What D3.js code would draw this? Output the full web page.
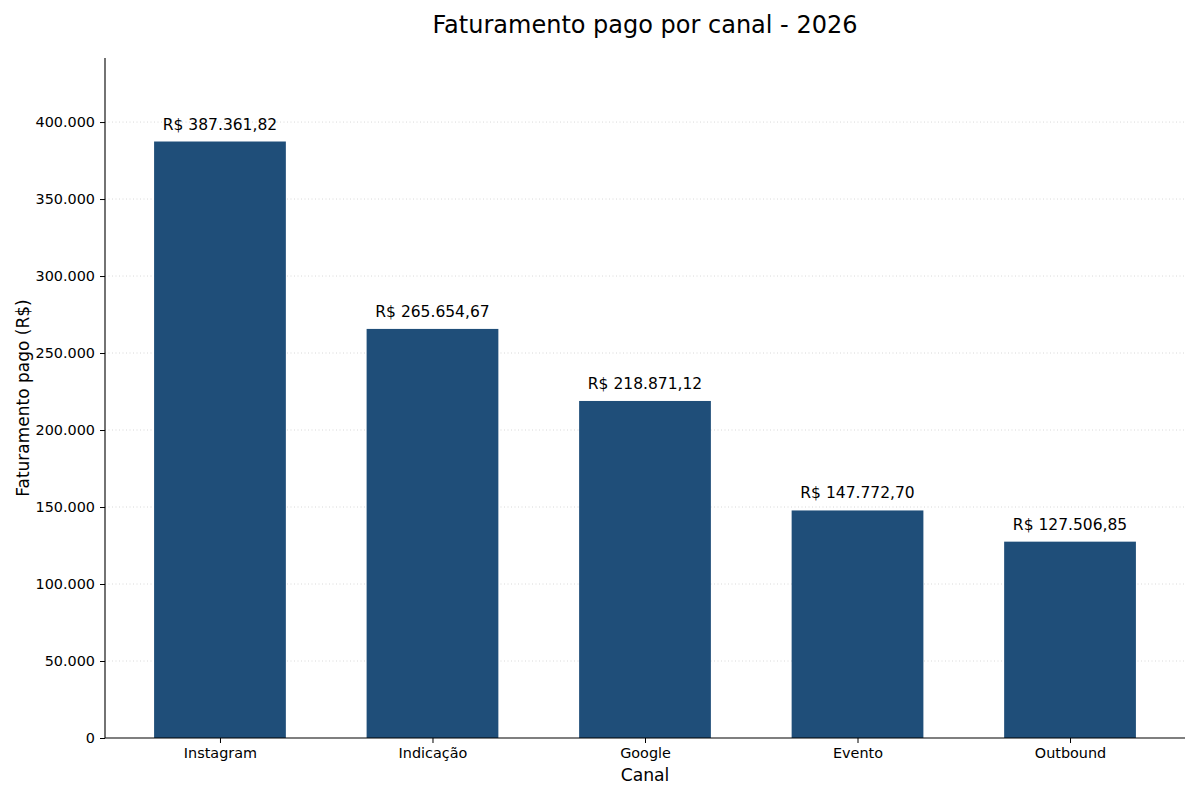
<!DOCTYPE html>
<html><head><meta charset="utf-8">
<script src="https://cdn.jsdelivr.net/npm/d3@7"></script>
<style>body{margin:0;background:#fff}svg{font-family:"DejaVu Sans",sans-serif}</style>
</head><body><svg id="c" width="1200" height="800"></svg>
<script>
const categories = ["Instagram","Indicação","Google","Evento","Outbound"];
const values = [387361.82, 265654.67, 218871.12, 147772.70, 127506.85];
const yTicks = [0,50000,100000,150000,200000,250000,300000,350000,400000];
const title = "Faturamento pago por canal - 2026";
const xLabel = "Canal";
const yLabel = "Faturamento pago (R$)";

const svg = d3.select("#c");
const L=105, R=1185, T=58, B=738;
const fmtInt = v => v.toLocaleString("pt-BR",{maximumFractionDigits:0}).replace(/\u00a0/g," ");
const fmtBRL = v => "R$ " + v.toLocaleString("pt-BR",{minimumFractionDigits:2,maximumFractionDigits:2});
const ymax = d3.max(values)*1.14;
const y = d3.scaleLinear().domain([0,ymax]).range([B,T]);
const x = d3.scaleLinear().domain([-0.541,4.541]).range([L,R]);
const bw = 0.62;

// grid
svg.append("g").selectAll("line").data(yTicks.filter(d=>d>0)).join("line")
  .attr("x1",L).attr("x2",R).attr("y1",d=>y(d)).attr("y2",d=>y(d))
  .attr("stroke","#cfcfcf").attr("stroke-width",0.8).attr("stroke-dasharray","1,2.5");

// bars
svg.append("g").selectAll("rect").data(values).join("rect")
  .attr("x",(d,i)=>x(i-bw/2)).attr("width",(d,i)=>x(i+bw/2)-x(i-bw/2))
  .attr("y",d=>y(d)).attr("height",d=>B-y(d)).attr("fill","#1f4e79");

// value labels
svg.append("g").selectAll("text").data(values).join("text")
  .attr("x",(d,i)=>x(i)).attr("y",d=>y(d)-12).attr("text-anchor","middle")
  .attr("font-size",15.5).attr("fill","#000").text(d=>fmtBRL(d));

// axes
const yAxis = d3.axisLeft(y).tickValues(yTicks).tickFormat(fmtInt).tickSize(5).tickPadding(5);
const gy = svg.append("g").attr("transform",`translate(${L},0)`).call(yAxis);
const xAxis = d3.axisBottom(x).tickValues(d3.range(categories.length)).tickFormat(i=>categories[i]).tickSize(5).tickPadding(5);
const gx = svg.append("g").attr("transform",`translate(0,${B})`).call(xAxis);
[gx,gy].forEach(g=>{
  g.select(".domain").remove();
  g.selectAll("text").attr("font-size",14.4).attr("font-family","DejaVu Sans").attr("fill","#000");
  g.selectAll("line").attr("stroke","#000").attr("stroke-width",1);
});
svg.append("line").attr("x1",L).attr("x2",L).attr("y1",T).attr("y2",B).attr("stroke","#000").attr("stroke-width",1.1);
svg.append("line").attr("x1",L).attr("x2",R).attr("y1",B).attr("y2",B).attr("stroke","#000").attr("stroke-width",1.1);

// titles
svg.append("text").attr("x",(L+R)/2).attr("y",33).attr("text-anchor","middle").attr("font-size",24).text(title);
svg.append("text").attr("x",(L+R)/2).attr("y",781).attr("text-anchor","middle").attr("font-size",17.2).text(xLabel);
svg.append("text").attr("transform",`translate(29,${(T+B)/2}) rotate(-90)`).attr("text-anchor","middle").attr("font-size",17).text(yLabel);
</script></body></html>
